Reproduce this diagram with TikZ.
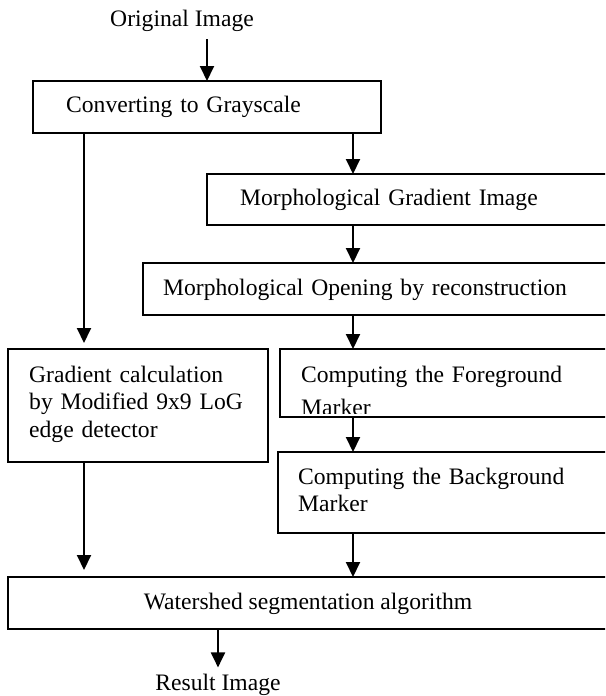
\documentclass[tikz,border=0pt]{standalone}
\usepackage{fontspec}
\setmainfont{Liberation Serif}
\usetikzlibrary{arrows.meta}

\begin{document}
\begin{tikzpicture}[x=1pt, y=-1pt, line join=miter,
		>={Triangle[width=14pt,length=15pt]},
		box/.style={draw, line width=1.8pt, anchor=north west, inner sep=0pt, outer sep=0pt},
		txt/.style={anchor=base west, inner sep=0pt, text width=330pt, align=left,
			font=\fontsize{23.6}{27.5}\selectfont},
		arr/.style={->, line width=2pt}]
	\clip (0,0) rectangle (605,696);
	% columns of the arrows
	\coordinate (colO) at (207,0);
	\coordinate (colL) at (84,0);
	\coordinate (colR) at (353,0);
	\coordinate (colB) at (218,0);
	% boxes
	\node[box, minimum width=348pt, minimum height=52pt] (gray)  at (33,81)  {};
	\node[box, minimum width=420pt, minimum height=51pt] (morph) at (207,174) {};
	\node[box, minimum width=480pt, minimum height=52pt] (open)  at (143,263) {};
	\node[box, minimum width=350pt, minimum height=68pt] (fore)  at (280,349) {};
	\node[box, minimum width=350pt, minimum height=81pt] (back)  at (278,452) {};
	\node[box, minimum width=260pt, minimum height=113pt] (grad) at (8,349)   {};
	\node[box, minimum width=620pt, minimum height=52pt] (water) at (8,577)   {};
	% texts
	\node[txt, anchor=base, text width=] (orig) at (182,27) {Original Image};
	\node[txt] (graytxt)  at (66,112.5) {Converting to Grayscale};
	\node[txt] (morphtxt) at (240,205.5) {Morphological Gradient Image};
	\node[txt, text width=420pt] (opentxt) at (163,295) {Morphological Opening by reconstruction};
	\begin{scope}
		\clip (280,349) rectangle (620,413);
		\node[txt, font=\fontsize{23.6}{33}\selectfont] (foretxt) at (301,382) {Computing the Foreground\\Marker};
	\end{scope}
	\node[txt, font=\fontsize{23.6}{27}\selectfont] (backtxt) at (298,484) {Computing the Background\\Marker};
	\node[txt, text width=230pt] (gradtxt) at (29,382) {Gradient calculation\\by Modified 9x9 LoG\\edge detector};
	\node[txt, anchor=base, text width=] (watertxt) at (308,609) {Watershed segmentation algorithm};
	\node[txt, anchor=base, text width=] (res) at (218,690) {Result Image};
	% arrows
	\draw[arr, shorten <=7pt] (colO |- orig.south) -- (colO |- gray.north);
	\draw[arr] (colR |- gray.south) -- (colR |- morph.north);
	\draw[arr] (colR |- morph.south) -- (colR |- open.north);
	\draw[arr] (colR |- open.south) -- (colR |- fore.north);
	\draw[arr] (colR |- fore.south) -- (colR |- back.north);
	\draw[arr] (colR |- back.south) -- (colR |- water.north);
	\draw[arr, shorten >=6pt] (colL |- gray.south) -- (colL |- grad.north);
	\draw[arr, shorten >=7pt] (colL |- grad.south) -- (colL |- water.north);
	\draw[arr, shorten >=6pt] (colB |- water.south) -- (colB |- res.north);
\end{tikzpicture}
\end{document}
